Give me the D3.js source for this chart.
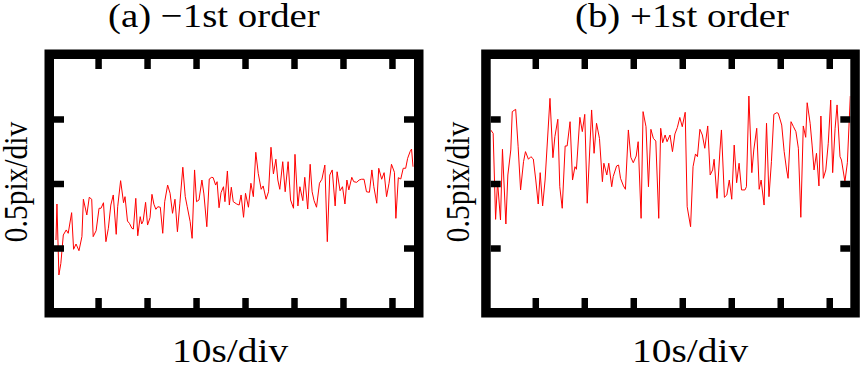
<!DOCTYPE html>
<html>
<head>
<meta charset="utf-8" />
<script src="https://d3js.org/d3.v7.min.js"></script>
<style>
  body { margin: 0; background: #fff; }
  svg { display: block; }
  .lbl { font-family: "Liberation Serif", "Times New Roman", serif; fill: #000; }
  .ticks line { stroke: #000; stroke-width: 6.5; }
</style>
</head>
<body>
<svg id="chart" width="864" height="375"></svg>
<script>
// panel (a) -1st order: time (s) and displacement (pix)
var timeA = [1.4,1.6,2.0,2.4,2.9,3.5,3.9,4.6,5.0,5.5,6.1,6.7,7.0,7.7,8.2,8.7,9.0,9.6,10.2,10.6,
  11.1,11.6,12.1,12.6,13.1,13.7,14.0,14.6,15.2,15.5,16.0,16.4,16.9,17.2,17.7,18.1,18.6,18.9,19.2,19.7,
  20.1,20.6,21.0,21.4,21.8,22.2,22.7,23.2,23.6,24.2,24.7,25.2,25.7,26.2,26.7,27.3,27.8,28.2,28.8,29.2,
  29.7,30.1,30.6,31.2,31.6,32.2,32.7,33.2,33.5,34.0,34.3,34.7,35.1,35.6,35.9,36.4,36.8,37.2,37.6,38.3,
  38.8,39.2,39.7,40.1,40.7,41.2,41.7,42.2,42.7,43.3,43.7,44.3,44.8,45.3,45.8,46.3,46.7,47.1,47.7,48.2,
  48.8,49.3,49.9,50.2,50.8,51.2,51.8,52.2,52.8,53.3,53.7,54.1,54.6,55.2,55.7,56.3,56.8,57.3,57.8,58.4,
  58.8,59.4,59.9,60.4,60.8,61.2,61.8,62.2,62.8,63.3,63.8,64.3,64.8,65.4,65.9,66.3,66.9,67.3,67.9,68.4,
  68.9,69.4,69.9,70.5,70.8,71.3,71.8,72.3,72.8,73.2,73.7,74.0,74.3];
var valuesA = [-0.438,-0.159,-0.709,-0.619,-0.399,-0.360,-0.386,-0.226,-0.510,-0.469,-0.521,-0.412,-0.122,-0.244,-0.107,-0.122,-0.412,-0.366,-0.192,-0.192,
  -0.149,-0.451,-0.347,-0.167,-0.089,-0.394,-0.180,0.022,-0.149,-0.102,-0.291,-0.309,-0.347,-0.353,-0.115,-0.405,-0.257,-0.314,-0.291,-0.146,
  -0.322,-0.265,-0.084,-0.161,-0.200,-0.180,-0.184,-0.386,-0.141,-0.012,-0.076,-0.231,-0.122,-0.374,-0.153,0.126,-0.102,-0.180,-0.296,-0.425,
  0.105,-0.141,-0.128,0.027,-0.081,-0.335,0.035,0.048,0.045,-0.012,0.014,-0.188,-0.071,-0.025,-0.141,0.097,-0.167,-0.029,-0.141,-0.159,
  -0.167,-0.089,-0.262,-0.076,-0.184,0.002,-0.102,0.242,0.079,-0.045,-0.019,-0.122,-0.064,0.281,0.074,0.188,0.027,-0.045,0.169,-0.064,
  0.169,-0.128,-0.192,0.226,-0.174,-0.025,-0.133,0.048,-0.198,0.149,-0.064,-0.133,-0.184,0.002,0.033,0.143,-0.451,0.066,0.105,-0.174,
  0.091,-0.056,-0.025,-0.159,0.027,-0.050,0.048,0.014,0.009,0.027,0.033,0.033,-0.064,-0.068,0.105,-0.025,-0.153,0.118,0.033,0.084,
  -0.102,0.002,0.149,0.087,-0.270,0.045,0.035,0.118,0.118,0.195,0.247,0.267,0.130];

// panel (b) +1st order
var timeB = [0.9,1.4,1.9,2.3,2.9,3.3,4.0,4.4,5.0,5.3,6.0,6.5,7.0,7.6,8.0,8.6,9.1,9.6,10.1,10.6,
  11.0,11.5,12.0,13.0,13.6,14.0,14.6,15.0,15.5,16.1,16.5,17.1,17.6,18.1,18.4,19.1,19.6,20.1,20.6,21.5,
  22.0,22.5,23.1,23.7,24.0,24.6,25.0,25.6,25.9,26.6,27.0,27.4,28.0,28.4,29.0,29.5,30.0,30.6,31.0,31.6,
  32.0,32.6,33.1,33.6,34.1,34.6,35.2,35.6,36.0,36.5,36.9,37.5,38.0,38.5,39.0,39.5,40.0,40.6,41.0,41.7,
  42.2,42.7,43.1,43.6,44.1,44.6,45.2,45.7,46.2,46.5,47.1,47.7,48.0,48.6,49.1,49.6,50.1,50.6,51.1,51.6,
  52.1,52.8,53.1,53.6,54.2,54.6,55.2,55.7,56.1,56.7,57.2,57.7,58.2,58.7,59.3,59.6,60.3,60.8,61.3,61.6,
  62.2,62.7,63.2,63.7,64.2,64.7,65.2,65.5,66.1,66.5,66.9,67.4,67.9,68.3,68.8,69.3,69.8,70.3,70.7,71.2,
  71.6,72.2,72.5,73.2,73.7,74.3];
var valuesB = [0.415,0.389,-0.278,0.014,-0.283,0.265,-0.314,0.066,0.260,0.557,0.575,0.285,-0.050,0.169,0.247,0.188,0.208,0.190,0.027,-0.159,
  0.084,-0.174,0.027,0.660,0.200,0.363,0.498,-0.025,-0.192,0.291,0.291,0.479,0.027,0.130,0.110,0.513,0.402,0.536,-0.153,0.570,
  0.234,0.467,0.350,0.014,0.157,0.066,0.157,-0.025,0.053,0.136,0.143,0.040,-0.019,-0.045,0.415,0.203,0.161,0.213,0.324,-0.270,
  0.557,0.440,-0.025,0.420,0.350,0.329,-0.270,0.428,0.316,0.376,0.324,0.376,0.247,0.384,0.434,0.512,0.440,0.552,-0.180,-0.335,
  0.130,0.229,0.208,0.420,0.376,0.273,0.446,0.066,0.105,0.188,-0.115,0.260,0.415,-0.107,-0.089,0.027,-0.122,0.298,0.006,0.157,
  -0.050,-0.050,-0.025,0.678,0.084,0.260,0.428,-0.045,0.027,-0.167,0.467,-0.102,0.169,0.536,0.549,0.544,0.453,0.247,0.105,0.040,
  0.479,0.440,0.402,0.273,-0.262,0.446,0.358,0.626,0.467,0.298,0.105,0.234,-0.019,0.523,0.040,0.105,0.312,0.647,0.084,0.428,
  0.609,0.208,0.182,0.014,0.161,0.678];

var xTicks = [10, 20, 30, 40, 50, 60, 70];   // 10 s/div
var yTicks = [-0.5, 0, 0.5];                 // 0.5 pix/div
var titles = ["(a) \u22121st order", "(b) +1st order"];
var xLabel = "10s/div";
var yLabel = "0.5pix/div";

var panels = [
  {t: timeA, v: valuesA, title: titles[0], left: 54, right: 414, dom: [1.0, 74.5],
   titleX: 108, xlabX: 172, ylabX: 26.5},
  {t: timeB, v: valuesB, title: titles[1], left: 490.7, right: 850.3, dom: [0.9, 74.3],
   titleX: 575, xlabX: 632, ylabX: 468.5}
];

var plotTop = 59, plotBottom = 308, frameW = 9.5, stretch = 1.16;
var svg = d3.select("#chart");

var y = d3.scaleLinear().domain([-0.965, 0.965]).range([plotBottom, plotTop]);

panels.forEach(function(p, i) {
  var x = d3.scaleLinear().domain(p.dom).range([p.left, p.right]);
  var g = svg.append("g");

  g.append("clipPath").attr("id", "clip" + i)
    .append("rect").attr("x", p.left).attr("y", plotTop)
    .attr("width", p.right - p.left).attr("height", plotBottom - plotTop);

  var pts = p.t.map(function(t, k) { return [t, p.v[k]]; });
  g.append("path")
    .datum(pts)
    .attr("clip-path", "url(#clip" + i + ")")
    .attr("fill", "none")
    .attr("stroke", "#f00")
    .attr("stroke-width", 1)
    .attr("d", d3.line().x(function(d) { return x(d[0]); }).y(function(d) { return y(d[1]); }));

  // inward ticks on all four sides
  function noLabels(ax) { return ax.tickSize(10).tickSizeOuter(0).tickFormat(""); }
  var axes = [
    [d3.axisBottom(x).tickValues(xTicks), "translate(0," + plotTop + ")"],
    [d3.axisTop(x).tickValues(xTicks), "translate(0," + plotBottom + ")"],
    [d3.axisRight(y).tickValues(yTicks), "translate(" + p.left + ",0)"],
    [d3.axisLeft(y).tickValues(yTicks), "translate(" + p.right + ",0)"]
  ];
  axes.forEach(function(a) {
    var ag = g.append("g").attr("class", "ticks").attr("transform", a[1]).call(noLabels(a[0]));
    ag.select(".domain").remove();
  });

  g.append("rect")
    .attr("x", p.left - frameW / 2).attr("y", plotTop - frameW / 2)
    .attr("width", p.right - p.left + frameW).attr("height", plotBottom - plotTop + frameW)
    .attr("fill", "none").attr("stroke", "#000").attr("stroke-width", frameW);

  g.append("text").attr("class", "lbl")
    .attr("transform", "translate(" + p.titleX + ",26.5) scale(" + stretch + ",1)")
    .style("font-size", "33.5px")
    .text(p.title);

  g.append("text").attr("class", "lbl")
    .attr("transform", "translate(" + p.xlabX + ",362) scale(" + stretch + ",1)")
    .style("font-size", "34px")
    .text(xLabel);

  g.append("text").attr("class", "lbl")
    .attr("transform", "translate(" + p.ylabX + ",182) scale(" + stretch + ",1) rotate(-90)")
    .attr("text-anchor", "middle")
    .style("font-size", "29.5px")
    .text(yLabel);
});
</script>
</body>
</html>
